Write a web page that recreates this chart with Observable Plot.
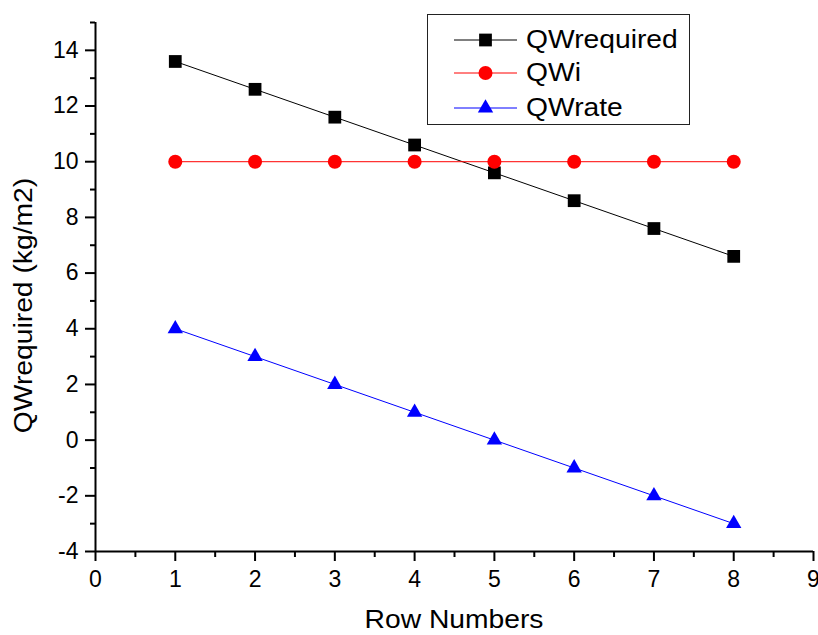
<!DOCTYPE html>
<html><head><meta charset="utf-8">
<script src="https://cdn.jsdelivr.net/npm/d3@7"></script>
<script src="https://cdn.jsdelivr.net/npm/@observablehq/plot@0.6"></script>
<style>
body{margin:0;background:#fff;font-family:"Liberation Sans",Arial,sans-serif}
#wrap{position:relative;width:818px;height:635px;overflow:hidden}
#wrap svg{position:absolute;left:0;top:0}
.title{position:absolute;font-size:25px;line-height:25px;height:25px;color:#000;text-align:center;white-space:nowrap}
</style></head><body>
<div id="wrap"></div>
<script>
// ---- data ----
const rowNumbers = [1, 2, 3, 4, 5, 6, 7, 8];
const qwRequired = [13.6, 12.6, 11.6, 10.6, 9.6, 8.6, 7.6, 6.6];
const qwI = [10, 10, 10, 10, 10, 10, 10, 10];
const qwRate = [4, 3, 2, 1, 0, -1, -2, -3];
const seriesNames = ["QWrequired", "QWi", "QWrate"];
const xMajorTicks = [0, 1, 2, 3, 4, 5, 6, 7, 8, 9];
const xMinorTicks = [0.5, 1.5, 2.5, 3.5, 4.5, 5.5, 6.5, 7.5, 8.5];
const yMajorTicks = [-4, -2, 0, 2, 4, 6, 8, 10, 12, 14];
const yMinorTicks = [-3, -1, 1, 3, 5, 7, 9, 11, 13, 15];
const xTitle = "Row Numbers";
const yTitle = "QWrequired (kg/m2)";

// ---- styles ----
const seriesColors = ["#000000", "#ff0000", "#0000ff"];
const seriesSymbols = ["square", "circle", "triangle"];
const seriesR = [7.2, 7, 5.7];
const stretch = 1.13;

const valuesBySeries = [qwRequired, qwI, qwRate];
const table = seriesNames.flatMap((s, i) =>
  rowNumbers.map((r, j) => ({series: s, row: r, value: valuesBySeries[i][j]})));

const fmt = d => String(d);
const chart = Plot.plot({
  width: 818, height: 635,
  marginLeft: 95, marginRight: 5, marginTop: 22, marginBottom: 84,
  x: {domain: [0, 9]},
  y: {domain: [-4, 15]},
  color: {domain: seriesNames, range: seriesColors},
  style: {fontFamily: "'Liberation Sans', Arial, sans-serif", fontSize: "23px", background: "transparent", color: "#000"},
  marks: [
    Plot.line(table, {x: "row", y: "value", z: "series", stroke: "series", strokeWidth: 1}),
    ...seriesNames.map((s, i) => Plot.dot(table.filter(d => d.series === s),
      {x: "row", y: "value", symbol: seriesSymbols[i], r: seriesR[i], fill: seriesColors[i], stroke: "none"})),
    Plot.axisX({ticks: xMajorTicks, tickSize: 10, tickPadding: 9, strokeWidth: 2, fontSize: 23, label: null, tickFormat: fmt}),
    Plot.axisX({ticks: xMinorTicks, tickSize: 6, strokeWidth: 2, label: null, tickFormat: () => ""}),
    Plot.axisY({ticks: yMajorTicks, tickSize: 10, tickPadding: 7, strokeWidth: 2, fontSize: 23, label: null, tickFormat: fmt}),
    Plot.axisY({ticks: yMinorTicks, tickSize: 5, strokeWidth: 2, label: null, tickFormat: () => ""}),
    Plot.ruleX([0], {strokeWidth: 2}),
    Plot.ruleY([-4], {strokeWidth: 2})
  ]
});
const wrap = document.getElementById("wrap");
wrap.appendChild(chart);
// enforce tick styling
d3.select(chart).selectAll('g[aria-label$="tick label"]').attr("font-size", 23)
  .selectAll("text").attr("font-size", 23);
d3.select(chart).selectAll('g[aria-label$="axis tick"]').attr("stroke-width", 2)
  .selectAll("path,line").attr("stroke-width", 2);

// axis titles
const xt = document.createElement("div");
xt.className = "title"; xt.textContent = xTitle;
Object.assign(xt.style, {left: "254px", top: "607px", width: "400px", transform: `scaleX(${stretch})`});
wrap.appendChild(xt);
const yt = document.createElement("div");
yt.className = "title"; yt.textContent = yTitle;
Object.assign(yt.style, {left: (23 - 200) + "px", top: (305 - 12.5) + "px", width: "400px", transform: `rotate(-90deg) scaleX(${stretch})`, transformOrigin: "50% 50%"});
wrap.appendChild(yt);

// legend
const lg = d3.select(wrap).append("svg")
  .attr("width", 264).attr("height", 112)
  .style("left", "427px").style("top", "14px");
lg.append("rect").attr("x", 0.5).attr("y", 0.5).attr("width", 262).attr("height", 110)
  .attr("fill", "#fff").attr("stroke", "#222").attr("stroke-width", 1);
const rowY = [26, 59, 94];
const symMap = {square: d3.symbolSquare, circle: d3.symbolCircle, triangle: d3.symbolTriangle};
seriesNames.forEach((s, i) => {
  const g = lg.append("g").attr("transform", `translate(0,${rowY[i]})`);
  g.append("line").attr("x1", 27).attr("x2", 90).attr("stroke", seriesColors[i]).attr("stroke-width", 1);
  g.append("path").attr("transform", "translate(58.5,0)")
    .attr("d", d3.symbol(symMap[seriesSymbols[i]], Math.PI * seriesR[i] * seriesR[i])())
    .attr("fill", seriesColors[i]);
  const t = g.append("text").attr("x", 99).attr("y", 8).attr("font-size", 25)
    .attr("font-family", "'Liberation Sans', Arial, sans-serif").text(s);
  const len = t.node().getComputedTextLength();
  t.attr("textLength", len * stretch).attr("lengthAdjust", "spacingAndGlyphs");
});
</script>
</body></html>
